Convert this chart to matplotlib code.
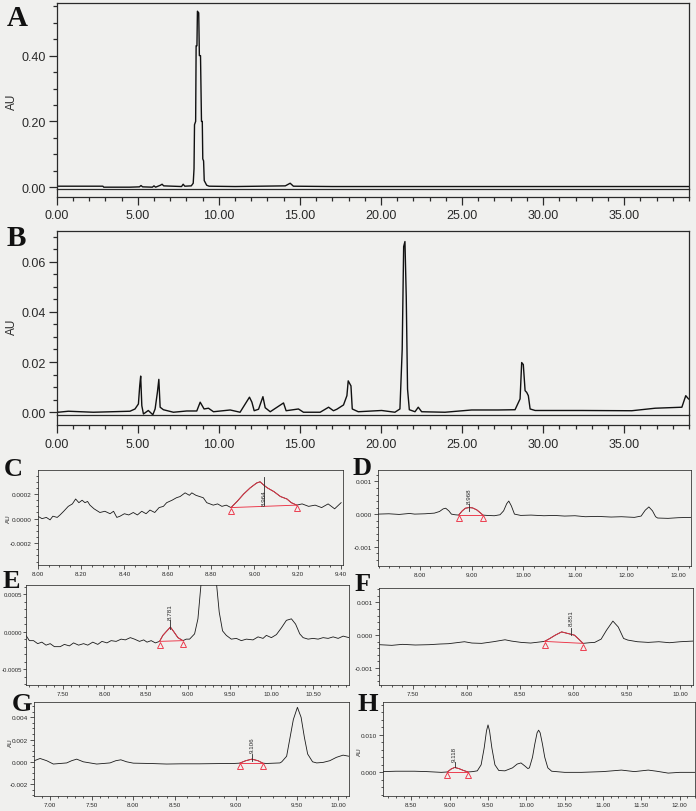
import numpy as np
import matplotlib
matplotlib.use("Agg")
import matplotlib.pyplot as plt
from matplotlib import transforms
from matplotlib.ticker import MultipleLocator, FixedLocator, FormatStrFormatter

# ---- chromatogram A (standard), time in min, absorbance in AU
a_time = [0.0, 1.0, 2.85, 2.9, 4.5, 5.1, 5.2, 5.3, 5.9, 6.0, 6.1, 6.4, 6.5, 6.6,
          7.7, 7.8, 7.9, 8.30, 8.42, 8.47, 8.50, 8.57, 8.60, 8.65, 8.68, 8.76,
          8.80, 8.87, 8.93, 8.98, 9.01, 9.06, 9.10, 9.25, 9.40, 11.0, 14.1, 14.25,
          14.4, 14.6, 17.0, 22.0, 28.0, 34.0, 39.0]
a_au = [0.003, 0.003, 0.003, 0.0, 0.0, 0.001, 0.005, 0.001, 0.0, 0.004, 0.0, 0.006,
        0.009, 0.004, 0.002, 0.009, 0.003, 0.004, 0.012, 0.056, 0.19, 0.20, 0.43,
        0.43, 0.535, 0.53, 0.40, 0.40, 0.20, 0.20, 0.086, 0.08, 0.02, 0.006, 0.003,
        0.002, 0.004, 0.008, 0.012, 0.003, 0.002, 0.002, 0.002, 0.002, 0.002]

# ---- chromatogram B (sample)
b_time = [0.0, 0.09, 0.72, 2.26, 4.52, 4.83, 5.04, 5.12, 5.18, 5.25, 5.35, 5.65,
          5.93, 6.07, 6.21, 6.30, 6.38, 6.58, 7.20, 8.02, 8.64, 8.85, 9.09, 9.36,
          9.67, 10.70, 11.31, 11.89, 12.04, 12.18, 12.45, 12.72, 12.86, 13.17, 13.99,
          14.15, 14.91, 15.22, 16.25, 16.77, 17.07, 17.28, 17.69, 17.90, 17.98,
          18.15, 18.23, 18.60, 20.04, 20.86, 21.17, 21.31, 21.40, 21.48, 21.56,
          21.64, 21.75, 22.10, 22.30, 22.51, 23.95, 25.59, 27.24, 28.27, 28.58,
          28.68, 28.78, 28.89, 28.99, 29.09, 29.20, 29.51, 32.38, 35.47, 36.91,
          38.56, 38.80, 38.97]
b_au = [0.0006, 0.0, 0.0004, 0.0, 0.0004, 0.0013, 0.0033, 0.0105, 0.0144, 0.0026,
        -0.0007, 0.0007, -0.001, 0.0013, 0.0079, 0.0131, 0.002, 0.001, 0.0, 0.0005,
        0.0005, 0.004, 0.0013, 0.0016, 0.0002, 0.0009, 0.0, 0.006, 0.004, 0.0006,
        0.0012, 0.0062, 0.0018, 0.0002, 0.0037, 0.0006, 0.0013, 0.0, 0.0, 0.002,
        0.0006, 0.0012, 0.0029, 0.0066, 0.0125, 0.0105, 0.0013, 0.0002, 0.0007, 0.0,
        0.0013, 0.025, 0.066, 0.068, 0.046, 0.0092, 0.001, 0.0002, 0.002, 0.0002,
        0.0, 0.0009, 0.0009, 0.001, 0.0053, 0.0198, 0.019, 0.0086, 0.0079, 0.0066,
        0.0013, 0.0007, 0.0007, 0.0006, 0.0016, 0.002, 0.0066, 0.0053]

# ---- zoomed traces C-H
c_time = [8.00, 8.02, 8.04, 8.057, 8.07, 8.09, 8.103, 8.12, 8.141, 8.16, 8.175,
          8.19, 8.205, 8.218, 8.23, 8.241, 8.26, 8.287, 8.31, 8.334, 8.35, 8.365,
          8.38, 8.40, 8.42, 8.441, 8.46, 8.48, 8.50, 8.518, 8.54, 8.56, 8.58, 8.595,
          8.62, 8.64, 8.657, 8.68, 8.70, 8.711, 8.73, 8.764, 8.78, 8.81, 8.83, 8.85,
          8.87, 8.892, 8.92, 8.95, 8.98, 9.01, 9.026, 9.045, 9.06, 9.09, 9.12, 9.15,
          9.17, 9.195, 9.22, 9.25, 9.28, 9.31, 9.34, 9.37, 9.40]
c_au = [0.00002, 0.0, 0.00001, -0.00001, 0.00002, 0.00001, 0.00003, 0.00006,
        0.0001, 0.00012, 0.00016, 0.00013, 0.00015, 0.00013, 0.00014, 0.00011,
        0.00008, 0.00005, 0.00006, 0.00004, 0.00006, 0.00001, 0.00002, 0.00004,
        0.00003, 0.00005, 0.00003, 0.00006, 0.00004, 0.00007, 0.00005, 0.00009,
        0.0001, 0.00013, 0.00015, 0.00017, 0.00018, 0.00021, 0.00019, 0.00021,
        0.00019, 0.00017, 0.00013, 0.00011, 0.00012, 0.0001, 0.00011, 0.00009,
        0.00014, 0.0002, 0.00025, 0.00029, 0.0003, 0.00027, 0.00025, 0.00022,
        0.00018, 0.00016, 0.00013, 0.00011, 0.00012, 0.0001, 0.00011, 0.00009,
        0.00012, 0.00008, 0.00013]

d_time = [7.19, 7.4, 7.6, 7.8, 7.9, 8.1, 8.28, 8.38, 8.45, 8.50, 8.56, 8.61, 8.68,
          8.75, 8.82, 8.88, 8.95, 9.02, 9.10, 9.17, 9.22, 9.30, 9.44, 9.55, 9.62,
          9.68, 9.72, 9.77, 9.83, 9.95, 10.15, 10.4, 10.6, 10.8, 11.0, 11.2, 11.44,
          11.7, 11.9, 12.15, 12.28, 12.36, 12.43, 12.50, 12.56, 12.60, 12.8, 13.0,
          13.245]
d_au = [0.0, 0.00001, -0.00001, 0.00002, 0.0, 0.00001, 0.00003, 0.00008, 0.00016,
        0.00018, 0.0001, 0.0, -0.00002, -0.00003, 0.0001, 0.00018, 0.0002, 0.00019,
        0.00013, 0.00004, -0.00003, -0.00004, -0.00005, -0.00002, 0.0001, 0.00032,
        0.0004, 0.00025, 0.0, -0.00004, -0.00003, -0.00005, -0.00004, -0.00006,
        -0.00005, -0.00008, -0.00007, -0.00009, -0.00008, -0.0001, -0.00006,
        0.00012, 0.00022, 0.0001, -0.00008, -0.00012, -0.00013, -0.00011, -0.0001]

e_time = [7.06, 7.10, 7.15, 7.20, 7.25, 7.30, 7.35, 7.40, 7.47, 7.52, 7.58, 7.63,
          7.69, 7.75, 7.80, 7.86, 7.92, 7.97, 8.03, 8.08, 8.14, 8.20, 8.25, 8.31,
          8.36, 8.42, 8.47, 8.51, 8.56, 8.61, 8.66, 8.70, 8.74, 8.79, 8.83, 8.88,
          8.94, 8.98, 9.02, 9.08, 9.12, 9.156, 9.20, 9.25, 9.30, 9.344, 9.375, 9.415,
          9.46, 9.52, 9.58, 9.64, 9.70, 9.78, 9.84, 9.90, 9.94, 10.0, 10.06, 10.12,
          10.18, 10.24, 10.29, 10.34, 10.38, 10.44, 10.50, 10.56, 10.62, 10.68,
          10.74, 10.80, 10.86, 10.93]
e_au = [-0.00005, -0.00012, -0.00012, -0.00016, -0.00014, -0.00018, -0.00016,
        -0.0002, -0.0002, -0.00017, -0.00019, -0.00015, -0.00018, -0.00016,
        -0.00018, -0.00014, -0.00017, -0.00013, -0.00015, -0.00012, -0.00013,
        -0.0001, -0.00011, -0.00008, -0.0001, -0.00013, -0.00011, -0.00014,
        -0.00012, -0.00015, -0.00013, -0.00005, 0.0, 0.00006, 0.0, -0.00008,
        -0.00012, -0.0001, -0.0001, -0.00003, 0.00017, 0.00062, 0.0028, 0.004,
        0.0028, 0.00062, 0.00026, 0.00001, -0.00005, -0.0001, -0.00009, -0.00012,
        -0.0001, -0.00011, -0.00007, -0.00009, -0.00005, -0.00008, -0.00004,
        0.00005, 0.00015, 0.00017, 0.0001, -0.00003, -0.00008, -0.0001, -0.00009,
        -0.0001, -0.00008, -0.00009, -0.00007, -0.00009, -0.00006, -0.00008]

f_time = [7.18, 7.3, 7.4, 7.52, 7.65, 7.75, 7.83, 7.98, 8.05, 8.14, 8.25, 8.36, 8.42,
          8.51, 8.6, 8.73, 8.78, 8.83, 8.89, 8.95, 9.01, 9.05, 9.09, 9.15, 9.20,
          9.26, 9.31, 9.37, 9.42, 9.47, 9.51, 9.6, 9.70, 9.8, 9.9, 10.0, 10.12]
f_au = [-0.00029, -0.00031, -0.00028, -0.0003, -0.00029, -0.00027, -0.00026,
        -0.0002, -0.00024, -0.00025, -0.0002, -0.00014, -0.00018, -0.00022,
        -0.00024, -0.00019, -0.0001, 0.0, 0.0001, 0.00005, 0.0, -0.00012, -0.00025,
        -0.00023, -0.00022, -0.00012, 0.00015, 0.00043, 0.00025, -0.0001, -0.00015,
        -0.0002, -0.00022, -0.0002, -0.00023, -0.0002, -0.00018]

g_time = [6.81, 6.88, 6.96, 7.04, 7.20, 7.26, 7.32, 7.40, 7.56, 7.72, 7.79, 7.85,
          7.92, 8.00, 8.20, 8.40, 8.55, 8.70, 8.85, 8.98, 9.03, 9.08, 9.13, 9.18,
          9.22, 9.25, 9.36, 9.375, 9.415, 9.44, 9.47, 9.505, 9.55, 9.59, 9.63, 9.69,
          9.74, 9.82, 9.90, 9.98, 10.06, 10.13]
g_au = [0.0001, 0.0003, 0.0001, -0.0002, -0.0001, 0.0001, 0.00024, 0.0, -0.0002,
        -0.0001, 0.0001, 0.00018, 0.0, -0.00012, -0.00015, -0.0002, -0.00018,
        -0.00018, -0.00016, -0.00015, -0.00012, 0.0001, 0.00024, 0.0001, -0.00012,
        -0.00015, -0.0001, 0.0, 0.0005, 0.002, 0.0038, 0.0049, 0.004, 0.0022,
        0.0007, 0.0, -0.0001, -0.00005, 0.0001, 0.0004, 0.0006, 0.0005]

h_time = [8.13, 8.3, 8.54, 8.7, 8.89, 8.97, 9.02, 9.065, 9.12, 9.18, 9.24, 9.30,
          9.36, 9.41, 9.45, 9.48, 9.50, 9.52, 9.55, 9.59, 9.64, 9.72, 9.82, 9.88,
          9.93, 9.98, 10.02, 10.04, 10.08, 10.11, 10.14, 10.16, 10.18, 10.21, 10.24,
          10.28, 10.33, 10.50, 10.72, 11.0, 11.24, 11.41, 11.59, 11.70, 11.85, 12.0,
          12.20]
h_au = [0.0002, 0.0003, 0.0003, 0.0002, 0.0, 0.0001, 0.0009, 0.0013, 0.001, 0.0005,
        0.0001, 0.0002, 0.0004, 0.002, 0.0065, 0.011, 0.0126, 0.011, 0.0065, 0.002,
        0.0005, 0.0004, 0.0012, 0.0022, 0.0025, 0.0017, 0.001, 0.0012, 0.004,
        0.0075, 0.0105, 0.0112, 0.0105, 0.0075, 0.004, 0.0012, 0.0003, 0.0, 0.0,
        0.0002, 0.0006, 0.0002, 0.0006, 0.0003, -0.0002, 0.0, 0.0]

# integration window (start, end), apex marker time and printed retention time
peaks = {
    "C": (8.892, 9.195, 9.045, "8.964"),
    "D": (8.75, 9.22, 8.95, "8.968"),
    "E": (8.66, 8.94, 8.79, "8.781"),
    "F": (8.73, 9.09, 8.976, "8.851"),
    "G": (9.03, 9.22, 9.13, "9.106"),
    "H": (8.97, 9.24, 9.065, "9.118"),
}

# the G time axis in the figure is not evenly spaced: label time -> pixel column
g_axis_time = [6.81, 7.0, 7.5, 8.0, 8.5, 9.0, 9.5, 10.0, 10.13]
g_axis_px = [34.3, 50.0, 91.7, 133.3, 175.0, 236.0, 297.0, 338.0, 349.0]

W, H = 696, 812
BG = "#f0f0ee"
INK = "#2a2a2a"
RED = "#ec3346"


def px_rect(x0, y0, x1, y1):
    return [x0 / W, 1 - y1 / H, (x1 - x0) / W, (y1 - y0) / H]


def style(ax, big):
    lw = 0.9 if big else 0.55
    fs_y = 9 if big else 4.6
    fs_x = 9 if big else 4.5
    ax.set_facecolor(BG)
    for s in ax.spines.values():
        s.set_linewidth(lw)
        s.set_color(INK)
    ax.tick_params(which="both", direction="out", colors=INK, width=lw)
    ax.tick_params(which="major", length=6 if big else 3, pad=2 if big else 1.3)
    ax.tick_params(which="minor", length=3 if big else 1.6)
    ax.tick_params(axis="x", labelsize=fs_x)
    ax.tick_params(axis="y", labelsize=fs_y)


def offset_xaxis(ax, off_px, box_h_px, lw=0.9):
    ax.spines["bottom"].set_position(("outward", off_px * 0.72))
    frac = off_px / box_h_px
    ax.plot([0, 1], [0, 0], transform=ax.transAxes, color=INK, lw=lw, clip_on=False)
    ax.plot([0, 0], [0, -frac], transform=ax.transAxes, color=INK, lw=lw, clip_on=False)
    ax.plot([1, 1], [0, -frac], transform=ax.transAxes, color=INK, lw=lw, clip_on=False)


def mark_peak(fig, ax, t, y, key, line_lo, line_hi, text_y, va):
    t0, t1, tx, label = peaks[key]
    t = np.asarray(t)
    y = np.asarray(y)
    seg = (t >= t0 - 1e-9) & (t <= t1 + 1e-9)
    ax.plot(t[seg], y[seg], color=RED, lw=0.65)
    y0 = y[np.isclose(t, t0)][0]
    y1 = y[np.isclose(t, t1)][0]
    ax.plot([t0, t1], [y0, y1], color=RED, lw=0.65)
    trans = transforms.offset_copy(ax.transData, fig=fig, y=-2.3, units="points")
    ax.plot([t0, t1], [y0, y1], "^", mfc="none", mec=RED, ms=3.8, mew=0.65,
            transform=trans, clip_on=False)
    ax.plot([tx, tx], [line_lo, line_hi], color=INK, lw=0.6)
    ax.text(tx, text_y, label, rotation=90, ha="center", va=va, fontsize=4.5,
            color=INK)


def main():
    plt.rcParams["font.family"] = ["Liberation Sans", "DejaVu Sans"]
    fig = plt.figure(figsize=(W / 100, H / 100), dpi=100, facecolor=BG)

    # ---------------- A
    ax = fig.add_axes(px_rect(56.7, 4, 689, 189.5))
    ax.plot(a_time, a_au, color="#111111", lw=1.0)
    ax.set_xlim(0, 39.0)
    ax.set_ylim(-0.004, 0.56)
    ax.xaxis.set_major_locator(MultipleLocator(5))
    ax.xaxis.set_minor_locator(MultipleLocator(1))
    ax.yaxis.set_major_locator(MultipleLocator(0.2))
    ax.yaxis.set_minor_locator(MultipleLocator(0.05))
    ax.xaxis.set_major_formatter(FormatStrFormatter("%.2f"))
    ax.yaxis.set_major_formatter(FormatStrFormatter("%.2f"))
    style(ax, True)
    ax.tick_params(axis="x", pad=3)
    offset_xaxis(ax, 8, 185.5)

    # ---------------- B
    ax = fig.add_axes(px_rect(56.7, 232, 689, 416))
    ax.plot(b_time, b_au, color="#111111", lw=1.0)
    ax.set_xlim(0, 39.0)
    ax.set_ylim(-0.0011, 0.0722)
    ax.xaxis.set_major_locator(MultipleLocator(5))
    ax.xaxis.set_minor_locator(MultipleLocator(1))
    ax.yaxis.set_major_locator(MultipleLocator(0.02))
    ax.yaxis.set_minor_locator(MultipleLocator(0.005))
    ax.xaxis.set_major_formatter(FormatStrFormatter("%.2f"))
    ax.yaxis.set_major_formatter(FormatStrFormatter("%.2f"))
    style(ax, True)
    ax.tick_params(axis="x", pad=3)
    offset_xaxis(ax, 10, 184)

    small = [
        ("C", px_rect(37.7, 471, 343.3, 565.7), c_time, c_au, (8.0, 9.41),
         (-0.000375, 0.000396), 0.2, 0.05, 0.0002, 0.00005, "%.2f", "%.4f",
         (0.00011, 0.00034, 0.000175, "center")),
        ("D", px_rect(378, 470.7, 691, 566.7), d_time, d_au, (7.19, 13.245),
         (-0.00158, 0.00136), 1.0, 0.2, 0.001, 0.0002, "%.2f", "%.3f",
         (0.0001, 0.0003, 0.00033, "bottom")),
        ("E", px_rect(26, 586, 349, 686), e_time, e_au, (7.06, 10.93),
         (-0.00071, 0.00062), 0.5, 0.1, 0.0005, 0.0001, "%.2f", "%.4f",
         (0.00004, 0.00015, 0.00017, "bottom")),
        ("F", px_rect(379, 589.3, 693, 686), f_time, f_au, (7.18, 10.12),
         (-0.00152, 0.00143), 0.5, 0.1, 0.001, 0.0002, "%.2f", "%.3f",
         (0.0, 0.00023, 0.00031, "bottom")),
        ("G", px_rect(34.3, 703.3, 349, 797.3), g_time, g_au, (6.81, 10.13),
         (-0.0031, 0.00535), 0.5, 0.1, 0.002, 0.0005, "%.2f", "%.3f",
         (0.00009, 0.0007, 0.00084, "bottom")),
        ("H", px_rect(383, 703.3, 695, 796.7), h_time, h_au, (8.13, 12.20),
         (-0.0062, 0.0186), 0.5, 0.1, 0.01, 0.002, "%.2f", "%.3f",
         (0.0013, 0.0028, 0.0031, "bottom")),
    ]
    for key, rect, t, y, xl, yl, xmaj, xmin, ymaj, ymin, xfmt, yfmt, ann in small:
        ax = fig.add_axes(rect)
        if key == "G":
            ax.set_xscale("function", functions=(
                lambda v: np.interp(v, g_axis_time, g_axis_px),
                lambda p: np.interp(p, g_axis_px, g_axis_time)))
            ax.xaxis.set_major_locator(FixedLocator(np.arange(7.0, 10.01, 0.5)))
            ax.xaxis.set_minor_locator(FixedLocator(np.arange(6.9, 10.11, 0.1)))
        else:
            ax.xaxis.set_major_locator(MultipleLocator(xmaj))
            ax.xaxis.set_minor_locator(MultipleLocator(xmin))
        ax.plot(t, y, color="#1a1a1a", lw=0.6)
        ax.set_xlim(*xl)
        ax.set_ylim(*yl)
        ax.yaxis.set_major_locator(MultipleLocator(ymaj))
        ax.yaxis.set_minor_locator(MultipleLocator(ymin))
        ax.xaxis.set_major_formatter(FormatStrFormatter(xfmt))
        ax.yaxis.set_major_formatter(FormatStrFormatter(yfmt))
        style(ax, False)
        if key == "E":
            # tight left margin in the source figure
            ax.tick_params(axis="y", labelsize=4.3, pad=0.6)
            ax.tick_params(axis="y", which="major", length=2.4)
        mark_peak(fig, ax, t, y, key, *ann)

    # panel letters
    letters = [("A", 7, 26, 21), ("B", 7, 246.5, 21), ("C", 4, 476.5, 19),
               ("D", 353, 475, 19), ("E", 3, 588, 19), ("F", 355, 591, 19),
               ("G", 12, 711, 19), ("H", 357, 711, 19)]
    for s, x, yb, fs in letters:
        fig.text(x / W, 1 - yb / H, s, fontfamily="Liberation Serif",
                 fontweight="bold", fontsize=fs, ha="left", va="baseline",
                 color="#111111")

    # AU axis titles
    for x, yc, fs in [(11.7, 102, 8.5), (11.7, 327, 8.5), (8.3, 519, 4.5),
                      (10, 743, 4.5), (359, 752, 4.5)]:
        fig.text(x / W, 1 - yc / H, "AU", rotation=90, ha="center", va="center",
                 fontsize=fs, color=INK)

    fig.savefig("out.png", dpi=100, facecolor=BG)


if __name__ == "__main__":
    main()
